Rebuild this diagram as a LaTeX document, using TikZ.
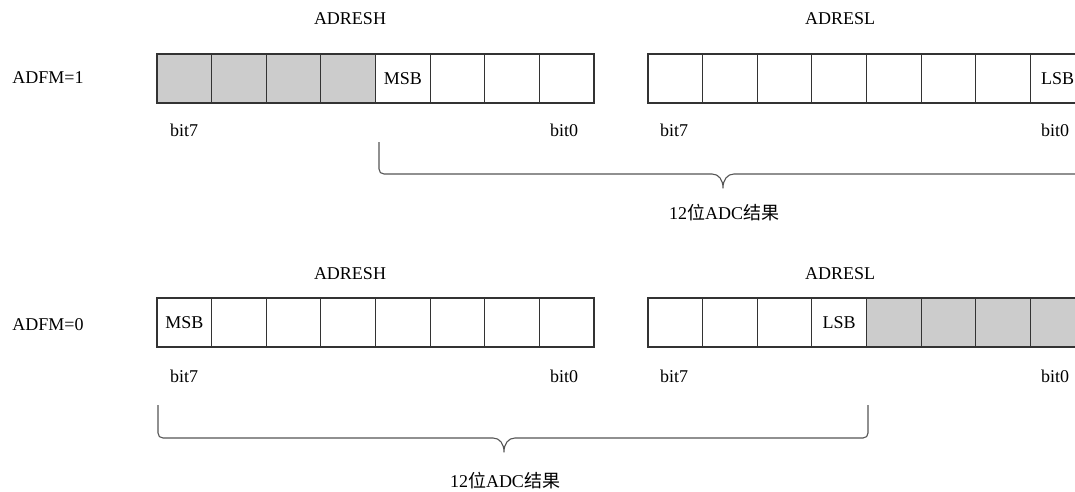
\documentclass[tikz,border=0pt]{standalone}
\usepackage{fontspec}
\setmainfont{Liberation Serif}
\newfontfamily\cjk{Noto Sans CJK SC}
\definecolor{linec}{HTML}{333333}
\definecolor{bracec}{HTML}{555555}
\definecolor{shade}{HTML}{CCCCCC}
\begin{document}
\begin{tikzpicture}[x=1pt,y=-1pt,
  every node/.style={font=\fontsize{18}{20}\selectfont, text=black},
  cell/.style={draw=linec, line width=1.1pt, minimum width=54.625pt, minimum height=49pt, inner sep=0pt, outer sep=0pt, anchor=north west},
  graycell/.style={cell, fill=shade},
  lbl/.style={inner sep=0pt, anchor=center},
  bracepath/.style={draw=bracec, line width=1.1pt, line join=round}]
\useasboundingbox (0,0) rectangle (1075,492);
\clip (0,0) rectangle (1075,492);
\fill[white] (0,0) rectangle (1075,492);

% ---------- ADFM = 1 ----------
\node[lbl] (t1H) at (350,19) {ADRESH};
\node[lbl] (t1L) at (840,19) {ADRESL};
\node[lbl] (m1) at (48,78) {ADFM=1};
\foreach \i in {0,...,3} \node[graycell] (th\i) at ({157+\i*54.625},54) {};
\node[cell] (th4) at ({157+4*54.625},54) {MSB};
\foreach \i in {5,6,7} \node[cell] (th\i) at ({157+\i*54.625},54) {};
\foreach \i in {0,...,6} \node[cell] (tl\i) at ({648+\i*54.625},54) {};
\node[cell] (tl7) at ({648+7*54.625},54) {LSB};
\node[lbl] (b1a) at (184,130) {bit7};
\node[lbl] (b1b) at (564,130) {bit0};
\node[lbl] (b1c) at (674,130) {bit7};
\node[lbl] (b1d) at (1055,130) {bit0};

\coordinate (tbA) at (379,142);
\coordinate (tbB) at (1085,142);
\coordinate (tbT) at (723,188);
\draw[bracepath] (tbA) -- (379,169) .. controls (379,172) and (381,174) .. (384,174)
  -- (712,174) .. controls (719,174) and (723,180) .. (tbT)
  .. controls (723,180) and (727,174) .. (734,174) -- (1080,174)
  .. controls (1083,174) and (1085,172) .. (1085,169) -- (tbB);
\node[lbl] (r1) at (724,213) {12{\cjk 位}ADC{\cjk 结果}};

% ---------- ADFM = 0 ----------
\node[lbl] (t2H) at (350,274) {ADRESH};
\node[lbl] (t2L) at (840,274) {ADRESL};
\node[lbl] (m0) at (48,325) {ADFM=0};
\node[cell] (bh0) at (157,298) {MSB};
\foreach \i in {1,...,7} \node[cell] (bh\i) at ({157+\i*54.625},298) {};
\foreach \i in {0,1,2} \node[cell] (bl\i) at ({648+\i*54.625},298) {};
\node[cell] (bl3) at ({648+3*54.625},298) {LSB};
\foreach \i in {4,...,7} \node[graycell] (bl\i) at ({648+\i*54.625},298) {};
\node[lbl] (b0a) at (184,376) {bit7};
\node[lbl] (b0b) at (564,376) {bit0};
\node[lbl] (b0c) at (674,376) {bit7};
\node[lbl] (b0d) at (1055,376) {bit0};

\coordinate (bbA) at (158,405);
\coordinate (bbB) at (868,405);
\coordinate (bbT) at (504,452);
\draw[bracepath] (bbA) -- (158,433) .. controls (158,436) and (160,438) .. (163,438)
  -- (493,438) .. controls (500,438) and (504,444) .. (bbT)
  .. controls (504,444) and (508,438) .. (515,438) -- (863,438)
  .. controls (866,438) and (868,436) .. (868,433) -- (bbB);
\node[lbl] (r0) at (505,481) {12{\cjk 位}ADC{\cjk 结果}};
\end{tikzpicture}
\end{document}
